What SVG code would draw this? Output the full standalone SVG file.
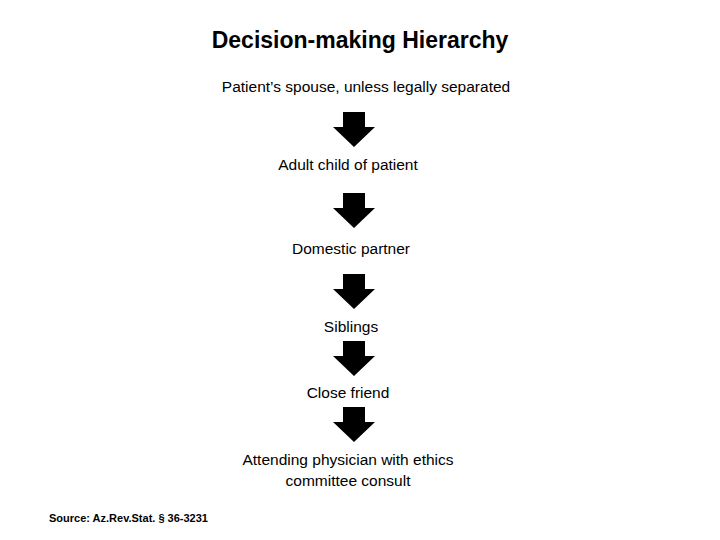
<svg xmlns="http://www.w3.org/2000/svg" width="720" height="540" viewBox="0 0 720 540">
<defs><style>
text{font-family:"Liberation Sans",Arial,sans-serif;fill:#000;text-anchor:middle}
.t{font-size:15.5px}
.h{font-size:23px;font-weight:bold}
.s{font-size:11px;font-weight:bold;text-anchor:start}
.a{fill:#000}
</style>
<path id="arr" d="M-11,0 H11 V15 H21 L0,35 L-21,15 H-11 Z"/></defs>
<rect width="720" height="540" fill="#fff"/>
<text class="h" x="360" y="48">Decision-making Hierarchy</text>
<g id="n1"><text class="t" x="366" y="92">Patient’s spouse, unless legally separated</text></g>
<g id="n2"><text class="t" x="348" y="170">Adult child of patient</text></g>
<g id="n3"><text class="t" x="351" y="254">Domestic partner</text></g>
<g id="n4"><text class="t" x="351" y="332">Siblings</text></g>
<g id="n5"><text class="t" x="348" y="398">Close friend</text></g>
<g id="n6"><text class="t" x="348" y="465">Attending physician with ethics</text><text class="t" x="348" y="486">committee consult</text></g>
<g id="connectors" class="a">
<use href="#arr" x="354" y="112"/>
<use href="#arr" x="354" y="193"/>
<use href="#arr" x="354" y="274"/>
<use href="#arr" x="354" y="341"/>
<use href="#arr" x="354" y="407"/>
</g>
<text class="s" x="49" y="522">Source: Az.Rev.Stat. § 36-3231</text>
</svg>
